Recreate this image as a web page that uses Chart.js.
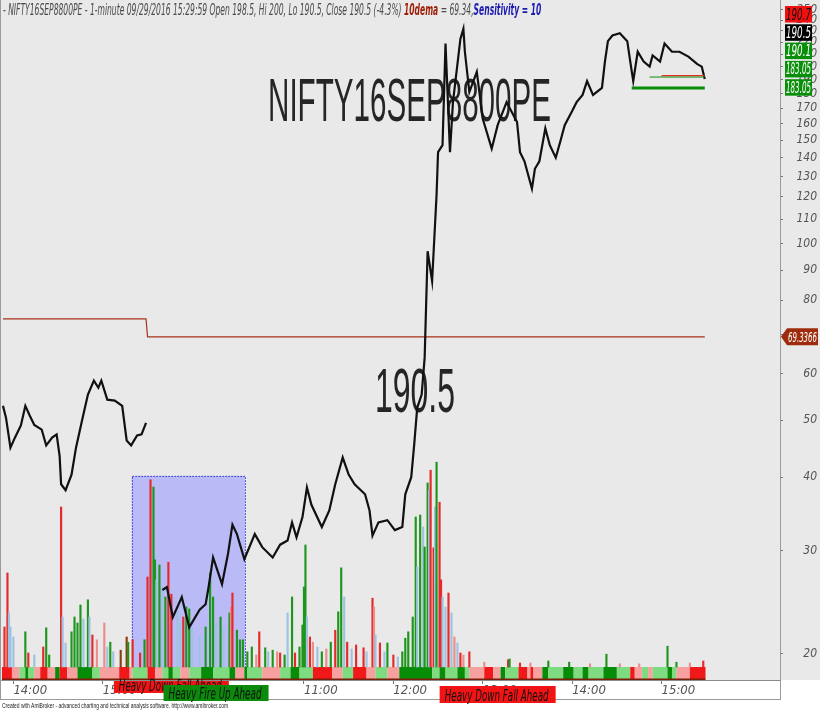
<!DOCTYPE html>
<html>
<head>
<meta charset="utf-8">
<title>NIFTY16SEP8800PE</title>
<script src="https://cdn.jsdelivr.net/npm/chart.js@4.4.1/dist/chart.umd.min.js"></script>
<style>
  html, body { margin: 0; padding: 0; background: #fff; }
  canvas { display: block; }
</style>
</head>
<body>
<canvas id="chart" width="820" height="711"></canvas>
<script>
// bar index = minutes from 13:53 of the previous session; today starts at 97 (09:15)
const symbol = 'NIFTY16SEP8800PE';
const tickBars = [7, 67, 202, 262, 322, 382, 442];
const tickLabels = ['14:00', '15:00', '11:00', '12:00', '13:00', '14:00', '15:00'];
const priceTicks = [20, 30, 40, 50, 60, 70, 80, 90, 100, 110, 120, 130, 140, 150, 160, 170, 180, 190, 200, 210, 220, 230, 240, 250];

const prevBar = [0, 2, 5, 8, 12, 15, 18, 21, 26, 29, 33, 36, 38, 39, 42, 46, 49, 53, 57, 61, 64, 66, 70, 75, 80, 83, 86, 90, 93, 96];
const prevClose = [52.9, 50.5, 44.9, 46.7, 49.0, 52.9, 50.9, 49.1, 48.2, 45.3, 46.7, 47.3, 43.5, 38.9, 38.0, 40.4, 44.9, 49.9, 55.3, 58.4, 56.8, 58.4, 54.2, 54.0, 52.9, 46.2, 45.3, 47.1, 47.3, 49.5];

const dayBar = [107, 110, 114, 120, 125, 132, 136, 138, 141, 147,
  151, 154, 157, 162, 169, 174, 181, 186, 191, 194,
  197, 201, 204, 207, 214, 219, 223, 228, 232, 236,
  243, 246, 248, 252, 258, 263, 268, 270, 274, 276,
  278, 281, 283, 285, 288, 291, 292, 295, 297, 300,
  302, 307, 309, 310, 313, 318, 322, 328, 332, 338,
  345, 347, 350, 355, 357, 360, 364, 367, 371, 374,
  377, 382, 385, 389, 392, 396, 402, 404, 406, 409,
  414, 419, 421, 423, 426, 430, 434, 436, 441, 444,
  449, 454, 460, 466, 469, 471];
const dayClose = [25.7, 26.0, 23.1, 25.0, 22.2, 23.8, 24.3, 26.0, 29.2, 26.3,
  29.6, 33.2, 32.0, 29.0, 32.0, 30.4, 29.2, 30.7, 31.2, 33.5,
  31.6, 34.2, 38.4, 35.9, 32.9, 35.1, 38.9, 43.2, 40.4, 38.9,
  37.4, 35.1, 31.8, 33.5, 33.8, 32.5, 32.9, 37.4, 40.0, 45.5,
  52.5, 55.3, 63.9, 97, 86.3, 121, 143, 147, 219, 143,
  174, 223, 232, 212, 181, 196, 163, 145, 159, 174,
  161, 143, 138, 124, 134, 138, 157, 147, 140, 149,
  159, 168, 174, 179, 189, 179, 184, 204, 221, 226,
  228, 221, 204, 189, 212, 204, 200, 209, 204, 219,
  212, 212, 208, 202, 200, 190.5];

const demaBar = [0, 96, 97, 471];
const demaValue = [74.4, 74.4, 69.3366, 69.3366];

const levelStart = [422, 434, 442];
const levelValue = [184, 192, 193];

const volBar = [1, 3, 4, 5, 7, 15, 17, 21, 27, 29,
  31, 39, 40, 42, 46, 48, 50, 52, 54, 57,
  58, 60, 63, 68, 70, 72, 74, 79, 83, 84,
  87, 92, 95, 97, 99, 101, 102, 103, 105, 107,
  109, 111, 113, 117, 119, 121, 123, 125, 127, 132,
  136, 139, 141, 143, 146, 148, 152, 153, 154, 157,
  159, 161, 164, 167, 170, 172, 176, 178, 181, 184,
  186, 189, 191, 194, 196, 199, 201, 202, 203, 204,
  206, 208, 211, 214, 217, 220, 223, 225, 227, 229,
  231, 234, 237, 242, 244, 248, 249, 250, 253, 256,
  258, 262, 265, 268, 270, 272, 275, 277, 278, 280,
  282, 283, 285, 286, 287, 289, 290, 291, 293, 294,
  295, 297, 299, 301, 303, 305, 307, 309, 313, 323,
  339, 340, 347, 354, 366, 380, 394, 405, 414, 427,
  446, 452, 461, 470];
const volSize = [10, 23.5, 13.5, 10, 7.5, 8.8, 3.5, 3, 5, 9.8,
  3, 40, 12.5, 6, 8.8, 12.5, 11, 15.5, 12, 16.8,
  12.5, 8, 6.8, 11, 5, 6.2, 3.8, 4.2, 7.5, 6.2,
  6.8, 3.5, 6.8, 22.5, 46.8, 45, 26.8, 21.8, 25.5, 20,
  17.5, 26.2, 18.2, 13.8, 11.2, 12.5, 15, 14.5, 10, 7.5,
  10, 23.5, 17.5, 11.2, 12.5, 10, 13.5, 15, 18.5, 9.2,
  6.8, 6.8, 3.8, 5, 3, 8.8, 4.8, 3.8, 4.2, 3.8,
  3.5, 3, 13.5, 17.5, 3.5, 5, 10.5, 20, 30.5, 12.5,
  7.5, 6.2, 5, 3.8, 4.5, 6.2, 9.2, 13.8, 24.8, 17.5,
  6.2, 4.5, 5.5, 4.8, 3.8, 17.2, 15, 8, 6, 3.8,
  6, 3, 2.5, 3.8, 7.2, 8.8, 12.5, 37.5, 25, 38,
  35, 30, 46, 44.2, 49.2, 29.8, 40, 51.2, 41.2, 21.8,
  17.5, 15, 18.5, 13.5, 7.5, 6, 3.5, 3, 3.8, 1.2,
  1.8, 2, 1, 1, 1.5, 1.2, 0.8, 3.2, 0.8, 0.8,
  5.2, 1.2, 1, 1.5];
// R red, G green, B blue, P light red, D brown
const volKind = ['R', 'R', 'B', 'B', 'B', 'G', 'R', 'B', 'R', 'G',
  'G', 'R', 'B', 'B', 'G', 'G', 'G', 'G', 'B', 'G',
  'B', 'R', 'P', 'P', 'B', 'G', 'B', 'D', 'D', 'G',
  'R', 'R', 'G', 'R', 'R', 'G', 'G', 'B', 'G', 'B',
  'G', 'R', 'R', 'B', 'B', 'R', 'G', 'G', 'B', 'B',
  'G', 'G', 'G', 'B', 'G', 'B', 'G', 'P', 'R', 'G',
  'G', 'G', 'G', 'G', 'P', 'R', 'G', 'B', 'G', 'P',
  'R', 'G', 'B', 'G', 'R', 'G', 'G', 'G', 'G', 'B',
  'R', 'P', 'B', 'G', 'P', 'G', 'R', 'G', 'G', 'B',
  'R', 'B', 'R', 'R', 'B', 'R', 'P', 'B', 'R', 'B',
  'G', 'R', 'B', 'G', 'G', 'G', 'G', 'G', 'B', 'G',
  'B', 'G', 'G', 'B', 'R', 'R', 'B', 'G', 'R', 'R',
  'B', 'B', 'R', 'B', 'P', 'B', 'R', 'P', 'R', 'P',
  'R', 'G', 'R', 'P', 'G', 'G', 'P', 'G', 'P', 'P',
  'G', 'G', 'P', 'R'];

// signal ribbon: each segment ends at ribbonEnd[k]
const ribbonEnd = [6, 11, 15, 17, 21, 25, 30, 35, 38, 43,
  50, 60, 65, 78, 85, 87, 97, 102, 107, 111,
  114, 119, 125, 133, 141, 152, 156, 162, 164, 174,
  186, 193, 199, 208, 221, 228, 235, 244, 250, 258,
  266, 288, 293, 297, 305, 310, 313, 323, 329, 334,
  337, 346, 352, 354, 356, 362, 366, 376, 383, 389,
  393, 403, 412, 421, 424, 429, 433, 436, 446, 449,
  452, 461, 471.5];
const ribbonKind = ['R', 'P', 'L', 'G', 'L', 'P', 'R', 'P', 'G', 'R',
  'P', 'G', 'L', 'P', 'R', 'P', 'L', 'R', 'P', 'L',
  'G', 'L', 'P', 'L', 'G', 'L', 'G', 'P', 'G', 'L',
  'P', 'L', 'G', 'L', 'R', 'P', 'L', 'R', 'P', 'L',
  'P', 'G', 'L', 'G', 'L', 'G', 'L', 'P', 'R', 'P',
  'G', 'L', 'R', 'P', 'R', 'P', 'G', 'L', 'G', 'L',
  'G', 'L', 'G', 'L', 'R', 'P', 'L', 'P', 'L', 'G',
  'L', 'P', 'R'];

const zoneBars = [86.5, 162.4];
const zoneTop = 40.2;

const noteBar = [113, 143, 332];
const noteText = ['Heavy Down Fall Ahead', 'Heavy Fire Up Ahead', 'Heavy Down Fall Ahead'];
const noteKind = ['down', 'up', 'down'];

const lastValues = ['190.7', '190.5', '190.1', '183.05', '183.05'];

const NARROW = '"Liberation Sans Narrow", "Arial Narrow", "DejaVu Sans Condensed", "Liberation Sans", sans-serif';
const VOL_COLORS = { R: '#e42a2a', G: '#1e961e', B: '#9ec3df', P: '#ee8c8c', D: '#8b3e12' };
const RIBBON_COLORS = { R: '#f01818', P: '#f7a0a0', L: '#7fdb7f', G: '#078c07' };
const LEVEL_STYLE = [{ c: '#0a8c0a', w: 3 }, { c: '#0a8c0a', w: 1 }, { c: '#e03020', w: 1.2 }];

const toPoints = (xs, ys) => xs.map((x, i) => ({ x, y: ys[i] }));

function fitText(ctx, text, x, y, width, font, color) {
    ctx.save();
    ctx.font = font;
    const w = ctx.measureText(text).width;
    ctx.translate(x, y);
    ctx.scale(width / w, 1);
    ctx.fillStyle = color;
    ctx.textAlign = 'left';
    ctx.textBaseline = 'alphabetic';
    ctx.fillText(text, 0, 0);
    ctx.restore();
}

const amiDecor = {
    id: 'amiDecor',
    beforeDraw(chart) {
        const { ctx, chartArea: a } = chart;
        ctx.save();
        ctx.fillStyle = '#ffffff';
        ctx.fillRect(0, 0, chart.width, chart.height);
        ctx.fillStyle = '#e9e9e9';
        ctx.fillRect(0, 0, chart.width, a.bottom);
        ctx.strokeStyle = '#9a9a9a';
        ctx.lineWidth = 1;
        ctx.strokeRect(0.5, a.bottom + 0.5, a.right, 19);
        ctx.beginPath();
        ctx.moveTo(0.5, 0);
        ctx.lineTo(0.5, a.bottom);
        ctx.stroke();
        ctx.restore();
    },
    beforeDatasetsDraw(chart) {
        const { ctx, chartArea: a, scales } = chart;
        const x = scales.x, y = scales.y, v = scales.v;
        ctx.save();
        // highlighted zone
        const zx0 = x.getPixelForValue(zoneBars[0]);
        const zx1 = x.getPixelForValue(zoneBars[1]);
        const zy0 = y.getPixelForValue(zoneTop);
        const zy1 = v.getPixelForValue(0);
        ctx.fillStyle = '#babaf7';
        ctx.fillRect(zx0, zy0, zx1 - zx0, zy1 - zy0);
        ctx.setLineDash([1.5, 1.5]);
        ctx.strokeStyle = '#2a2ad0';
        ctx.strokeRect(zx0 + 0.5, zy0 + 0.5, zx1 - zx0, zy1 - zy0);
        ctx.setLineDash([]);

        // ribbon
        const top = v.getPixelForValue(0);
        let start = -0.67;
        ribbonEnd.forEach((end, k) => {
            const p0 = x.getPixelForValue(start);
            const p1 = x.getPixelForValue(end);
            ctx.fillStyle = RIBBON_COLORS[ribbonKind[k]];
            ctx.fillRect(p0, top, p1 - p0, a.bottom - top - 1);
            start = end;
        });
        ctx.fillStyle = '#7a1e0a';
        ctx.fillRect(a.left, a.bottom - 1.5, x.getPixelForValue(471.5) - a.left, 1.5);

        // big overlay texts
        fitText(ctx, symbol, 268, 121, 283, '62px "Liberation Sans", Arial, sans-serif', 'rgba(20,20,20,0.92)');
        fitText(ctx, '190.5', 375, 412, 80, '63px "Liberation Sans", Arial, sans-serif', 'rgba(20,20,20,0.92)');
        ctx.restore();
    },
    afterDraw(chart) {
        const { ctx, chartArea: a, scales } = chart;
        const x = scales.x, y = scales.y;
        ctx.save();

        // title line
        const parts = [
            ['- ' + symbol + ' - 1-minute 09/29/2016 15:29:59 Open 198.5, Hi 200, Lo 190.5, Close 190.5 (-4.3%) ', '#4a4a4a', 'italic 15px '],
            ['10dema', '#9c1d06', 'italic bold 15px '],
            [' = 69.34,', '#4a4a4a', 'italic 15px '],
            ['Sensitivity = 10', '#1b1bb0', 'italic bold 15px ']
        ];
        ctx.font = parts[0][2] + NARROW;
        const sx = 401 / ctx.measureText(parts[0][0]).width;
        let tx = 3;
        parts.forEach(p => {
            ctx.font = p[2] + NARROW;
            const w = ctx.measureText(p[0]).width * sx;
            fitText(ctx, p[0], tx, 15, w, p[2] + NARROW, p[1]);
            tx += w;
        });

        // last value labels on the price axis
        const bg = ['#f01010', '#000000', '#0a8f0a', '#0a8f0a', '#0a8f0a'];
        const fg = ['#111111', '#ffffff', '#ffffff', '#ffffff', '#ffffff'];
        lastValues.forEach((t, k) => {
            const by = 6 + k * 18.3;
            ctx.fillStyle = bg[k];
            ctx.fillRect(785, by, 27, 16.5);
            fitText(ctx, t, 786, by + 13.5, 25, 'italic 15px ' + NARROW, fg[k]);
        });

        // dema label with arrow
        const dv = demaValue[demaValue.length - 1];
        const yc = y.getPixelForValue(dv);
        ctx.fillStyle = '#9e2c0c';
        ctx.beginPath();
        ctx.moveTo(781, yc);
        ctx.lineTo(787, yc - 8.5);
        ctx.lineTo(818, yc - 8.5);
        ctx.lineTo(818, yc + 8.5);
        ctx.lineTo(787, yc + 8.5);
        ctx.closePath();
        ctx.fill();
        fitText(ctx, dv.toFixed(4), 788, yc + 5, 29, 'italic 14px ' + NARROW, '#ffffff');

        // signal notes under the time axis
        const layout = [{ w: 115, top: 1, h: 12 }, { w: 105, top: 5, h: 16 }, { w: 116, top: 6, h: 17 }];
        noteBar.forEach((b, k) => {
            const L = layout[k];
            const x0 = x.getPixelForValue(b) - L.w / 2;
            const y0 = a.bottom + L.top;
            ctx.fillStyle = noteKind[k] === 'up' ? '#0b8a0b' : '#f21414';
            ctx.fillRect(x0, y0, L.w, L.h);
            fitText(ctx, noteText[k], x0 + 5, y0 + L.h - 2, L.w - 12, 'italic 16px ' + NARROW, '#111111');
        });

        // footer
        fitText(ctx, 'Created with AmiBroker - advanced charting and technical analysis software. http://www.amibroker.com',
            2, 708, 226, '8px "Liberation Sans", Arial, sans-serif', '#222222');
        ctx.restore();
    }
};

const levelSets = levelStart.map((s, k) => ({
    type: 'line',
    label: 'level ' + levelValue[k],
    data: [{ x: s, y: levelValue[k] }, { x: 471, y: levelValue[k] }],
    borderColor: LEVEL_STYLE[k].c,
    borderWidth: LEVEL_STYLE[k].w,
    pointRadius: 0,
    yAxisID: 'y',
    order: 0
}));

new Chart(document.getElementById('chart'), {
    type: 'bar',
    data: {
        datasets: [
            { type: 'line', label: 'Previous session', data: toPoints(prevBar, prevClose), borderColor: '#111111', borderWidth: 2.2, pointRadius: 0, yAxisID: 'y', order: 1 },
            { type: 'line', label: symbol, data: toPoints(dayBar, dayClose), borderColor: '#111111', borderWidth: 2.2, pointRadius: 0, yAxisID: 'y', order: 1 },
            { type: 'line', label: '10dema', data: toPoints(demaBar, demaValue), borderColor: '#a8321a', borderWidth: 1.2, pointRadius: 0, yAxisID: 'y', order: 2 },
            ...levelSets,
            { type: 'bar', label: 'Volume', data: toPoints(volBar, volSize), backgroundColor: volKind.map(k => VOL_COLORS[k]), barThickness: 1.5, yAxisID: 'v', order: 5 }
        ]
    },
    options: {
        responsive: false,
        animation: false,
        devicePixelRatio: 1,
        events: [],
        layout: { padding: { left: 2, right: 3, top: 0, bottom: 12 } },
        plugins: { legend: { display: false }, tooltip: { enabled: false } },
        scales: {
            x: {
                type: 'linear', position: 'bottom', min: -0.67, max: 521.5, offset: false,
                grid: { drawOnChartArea: false, offset: false, tickLength: 4, color: '#777777' },
                border: { color: '#8a8a8a' },
                ticks: {
                    align: 'start', autoSkip: false, maxRotation: 0, padding: -1, color: '#555555',
                    font: { family: NARROW, size: 13, style: 'italic' },
                    callback: (val, i) => tickLabels[i]
                },
                afterBuildTicks: s => { s.ticks = tickBars.map(value => ({ value })); },
                afterFit: s => { s.height = 19; s.paddingLeft = 0; s.paddingRight = 0; }
            },
            y: {
                type: 'logarithmic', position: 'right', min: 18.06, max: 259.7,
                grid: { drawOnChartArea: false, tickLength: 3, color: '#777777' },
                border: { color: '#9a9a9a' },
                ticks: {
                    crossAlign: 'far', padding: 0, color: '#555555',
                    font: { family: NARROW, size: 12, style: 'italic' },
                    callback: val => String(val)
                },
                afterBuildTicks: s => { s.ticks = priceTicks.map(value => ({ value })); },
                afterFit: s => { s.width = 37; s.paddingTop = 0; s.paddingBottom = 0; }
            },
            v: { type: 'linear', display: false, min: -3.25, max: 166.75 }
        }
    },
    plugins: [amiDecor]
});
</script>
</body>
</html>
